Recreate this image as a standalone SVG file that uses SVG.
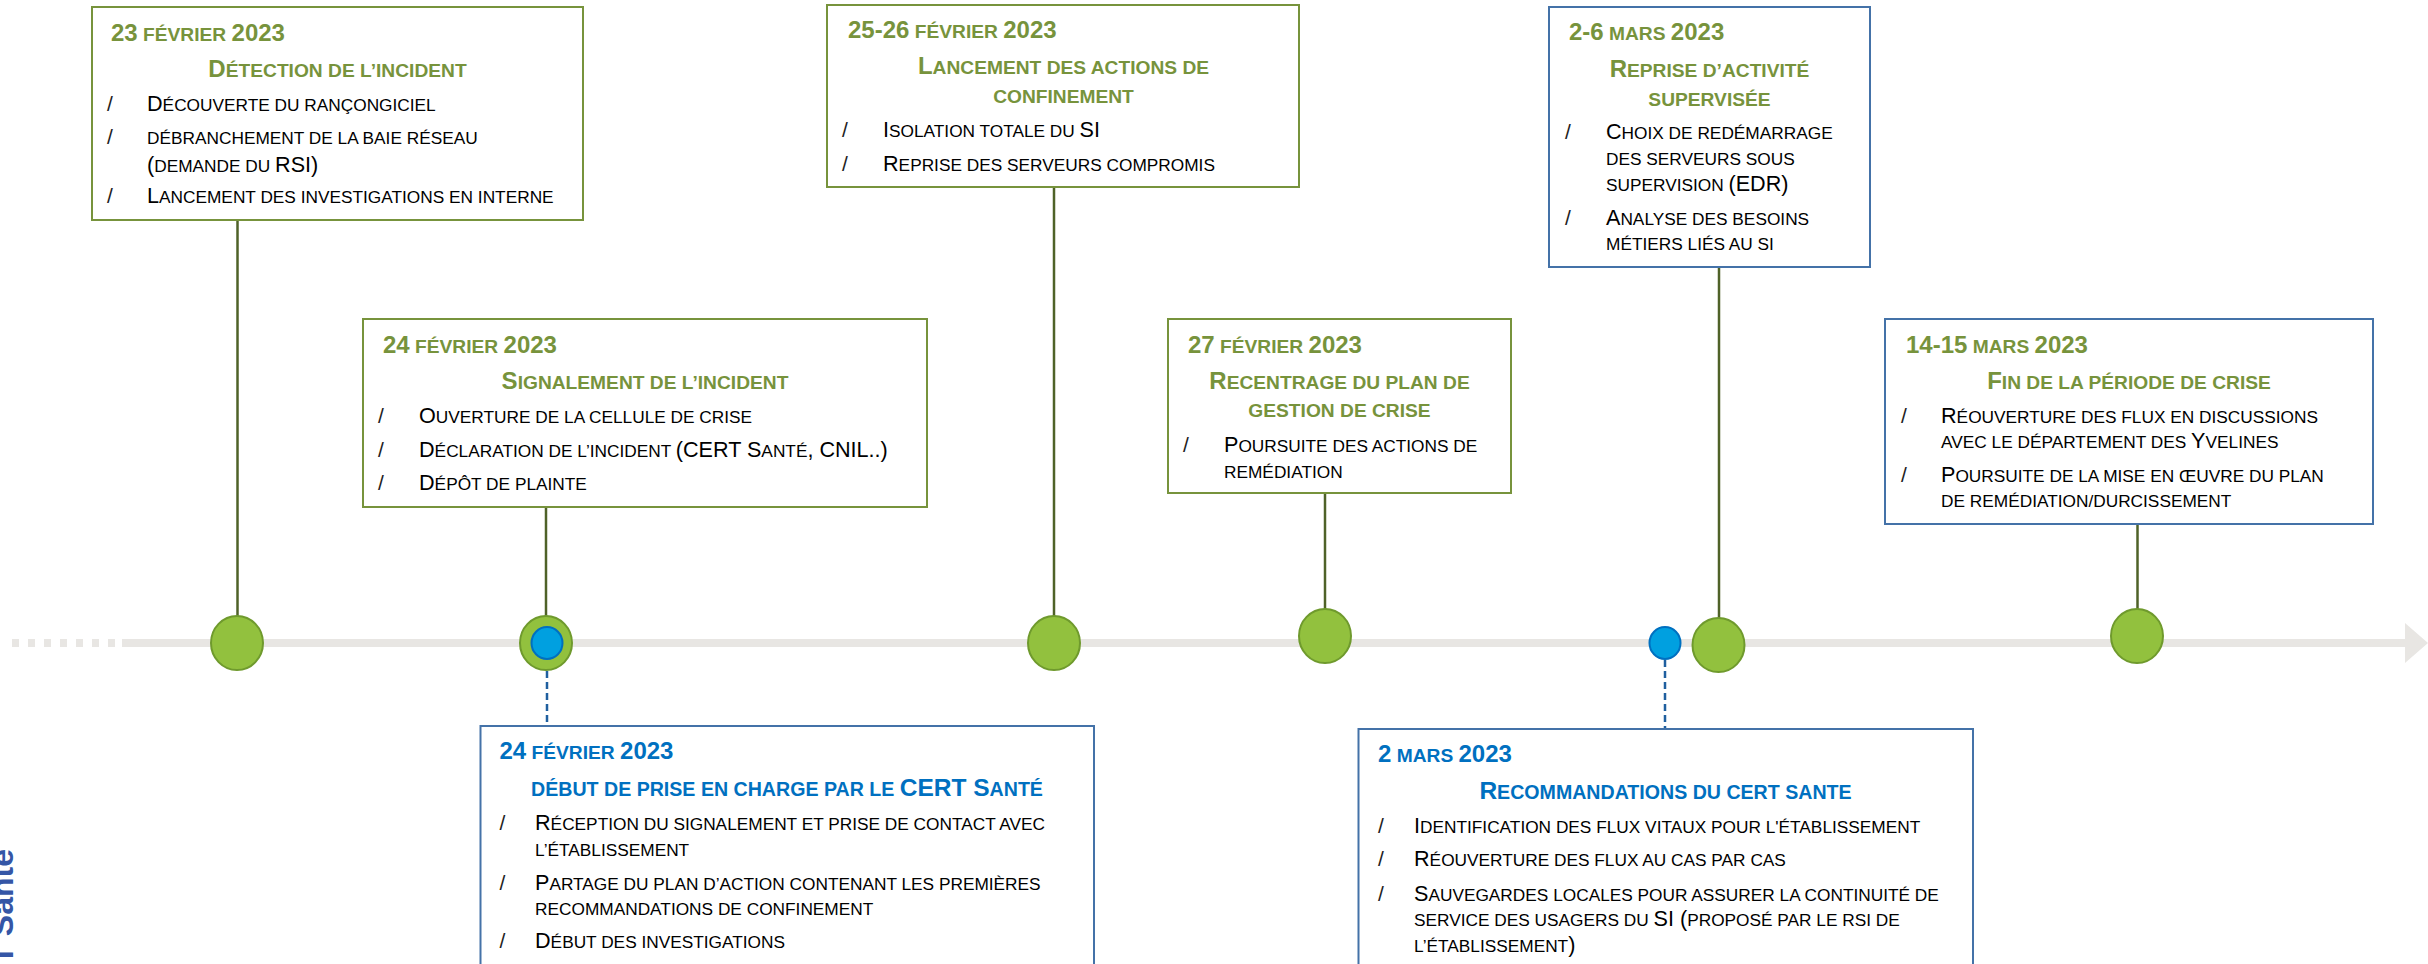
<svg xmlns="http://www.w3.org/2000/svg" width="2428" height="964" viewBox="0 0 2428 964">
  <style>
    text { font-family: "Liberation Sans", Arial, sans-serif; }
    .s { font-size: 80%; }
    .item { font-size: 21.6px; fill: #000; }
    .bul { font-size: 21px; fill: #222; }
    .date { font-size: 24px; font-weight: bold; fill: #77933C; }
    .head { font-size: 24px; font-weight: bold; fill: #77933C; text-anchor: middle; }
    .dateB { font-size: 24px; font-weight: bold; fill: #0070C0; }
    .headB { font-size: 24.5px; font-weight: bold; fill: #0070C0; text-anchor: middle; }
    .boxG { fill: #fff; stroke: #77933C; stroke-width: 2; }
    .boxB { fill: #fff; stroke: #4472A8; stroke-width: 2; }
    .stem { stroke: #4F6228; stroke-width: 2.5; fill: none; }
    .stemB { stroke: #1F5F9F; stroke-width: 2.5; fill: none; stroke-dasharray: 7 4; }
    .dot { fill: #92C13E; stroke: #6F9A2D; stroke-width: 2; }
    .dotB { fill: #00A0E0; stroke: #0070C0; stroke-width: 2; }
    .axis { stroke: #E8E6E3; stroke-width: 8; fill: none; }
  </style>

  <!-- time axis -->
  <g id="axis">
    <line class="axis" x1="12" y1="643" x2="118" y2="643" stroke-dasharray="7 9"/>
    <line class="axis" x1="122" y1="643" x2="2406" y2="643"/>
    <polygon points="2405,623 2428,643 2405,663" fill="#E8E6E3"/>
  </g>

  <!-- stems between event boxes and axis markers -->
  <g id="connectors">
    <line class="stem" x1="237.5" y1="220" x2="237.5" y2="617"/>
    <line class="stem" x1="546" y1="507" x2="546" y2="617"/>
    <line class="stem" x1="1054" y1="187" x2="1054" y2="617"/>
    <line class="stem" x1="1325" y1="493" x2="1325" y2="610"/>
    <line class="stem" x1="1719" y1="267" x2="1719" y2="618"/>
    <line class="stem" x1="2137.5" y1="524" x2="2137.5" y2="610"/>
    <line class="stemB" x1="547" y1="660" x2="547" y2="726"/>
    <line class="stemB" x1="1665" y1="660" x2="1665" y2="729"/>
  </g>

  <!-- axis markers -->
  <g id="markers">
    <ellipse class="dot" cx="237" cy="643" rx="26" ry="27"/>
    <ellipse class="dot" cx="546" cy="643" rx="26" ry="27"/>
    <ellipse class="dotB" cx="547" cy="643" rx="15.5" ry="16"/>
    <ellipse class="dot" cx="1054" cy="643" rx="26" ry="27"/>
    <ellipse class="dot" cx="1325" cy="636" rx="26" ry="27"/>
    <ellipse class="dotB" cx="1665" cy="643" rx="15.5" ry="16"/>
    <ellipse class="dot" cx="1718.5" cy="645" rx="26" ry="27"/>
    <ellipse class="dot" cx="2137" cy="636" rx="26" ry="27"/>
  </g>

  <!-- 23 février -->
  <g id="evt-0223">
    <rect class="boxG" x="92" y="7" width="491" height="213"/>
    <text class="date" x="111" y="41">23<tspan class="s"> FÉVRIER </tspan>2023</text>
    <text class="head" x="337.5" y="77">D<tspan class="s">ÉTECTION DE L’INCIDENT</tspan></text>
    <text class="bul" x="107" y="111">/</text>
    <text class="item" x="147" y="111">D<tspan class="s">ÉCOUVERTE DU RANÇONGICIEL</tspan></text>
    <text class="bul" x="107" y="144">/</text>
    <text class="item" x="147" y="144"><tspan class="s">DÉBRANCHEMENT DE LA BAIE RÉSEAU</tspan></text>
    <text class="item" x="147" y="171.5">(<tspan class="s">DEMANDE DU </tspan>RSI)</text>
    <text class="bul" x="107" y="203">/</text>
    <text class="item" x="147" y="203">L<tspan class="s">ANCEMENT DES INVESTIGATIONS EN INTERNE</tspan></text>
  </g>

  <!-- 24 février -->
  <g id="evt-0224">
    <rect class="boxG" x="363" y="319" width="564" height="188"/>
    <text class="date" x="383" y="353">24<tspan class="s"> FÉVRIER </tspan>2023</text>
    <text class="head" x="645" y="389">S<tspan class="s">IGNALEMENT DE L’INCIDENT</tspan></text>
    <text class="bul" x="378" y="423">/</text>
    <text class="item" x="419" y="423">O<tspan class="s">UVERTURE DE LA CELLULE DE CRISE</tspan></text>
    <text class="bul" x="378" y="457">/</text>
    <text class="item" x="419" y="457">D<tspan class="s">ÉCLARATION DE L’INCIDENT </tspan>(CERT S<tspan class="s">ANTÉ</tspan>, CNIL..)</text>
    <text class="bul" x="378" y="490">/</text>
    <text class="item" x="419" y="490">D<tspan class="s">ÉPÔT DE PLAINTE</tspan></text>
  </g>

  <!-- 25-26 février -->
  <g id="evt-0225">
    <rect class="boxG" x="827" y="5" width="472" height="182"/>
    <text class="date" x="848" y="38">25-26<tspan class="s"> FÉVRIER </tspan>2023</text>
    <text class="head" x="1063.5" y="74">L<tspan class="s">ANCEMENT DES ACTIONS DE</tspan></text>
    <text class="head" x="1063.5" y="102.5"><tspan class="s">CONFINEMENT</tspan></text>
    <text class="bul" x="842" y="137">/</text>
    <text class="item" x="883" y="137">I<tspan class="s">SOLATION TOTALE DU </tspan>SI</text>
    <text class="bul" x="842" y="171">/</text>
    <text class="item" x="883" y="171">R<tspan class="s">EPRISE DES SERVEURS COMPROMIS</tspan></text>
  </g>

  <!-- 27 février -->
  <g id="evt-0227">
    <rect class="boxG" x="1168" y="319" width="343" height="174"/>
    <text class="date" x="1188" y="353">27<tspan class="s"> FÉVRIER </tspan>2023</text>
    <text class="head" x="1339.5" y="389">R<tspan class="s">ECENTRAGE DU PLAN DE</tspan></text>
    <text class="head" x="1339.5" y="417"><tspan class="s">GESTION DE CRISE</tspan></text>
    <text class="bul" x="1183" y="452">/</text>
    <text class="item" x="1224" y="452">P<tspan class="s">OURSUITE DES ACTIONS DE</tspan></text>
    <text class="item" x="1224" y="478"><tspan class="s">REMÉDIATION</tspan></text>
  </g>

  <!-- 2-6 mars -->
  <g id="evt-0302-06">
    <rect class="boxB" x="1549" y="7" width="321" height="260"/>
    <text class="date" x="1569" y="40">2-6<tspan class="s"> MARS </tspan>2023</text>
    <text class="head" x="1709.5" y="77">R<tspan class="s">EPRISE D’ACTIVITÉ</tspan></text>
    <text class="head" x="1709.5" y="106"><tspan class="s">SUPERVISÉE</tspan></text>
    <text class="bul" x="1565" y="139">/</text>
    <text class="item" x="1606" y="139">C<tspan class="s">HOIX DE REDÉMARRAGE</tspan></text>
    <text class="item" x="1606" y="165"><tspan class="s">DES SERVEURS SOUS</tspan></text>
    <text class="item" x="1606" y="191"><tspan class="s">SUPERVISION </tspan>(EDR)</text>
    <text class="bul" x="1565" y="225">/</text>
    <text class="item" x="1606" y="225">A<tspan class="s">NALYSE DES BESOINS</tspan></text>
    <text class="item" x="1606" y="250"><tspan class="s">MÉTIERS LIÉS AU SI</tspan></text>
  </g>

  <!-- 14-15 mars -->
  <g id="evt-0314">
    <rect class="boxB" x="1885" y="319" width="488" height="205"/>
    <text class="date" x="1906" y="353">14-15<tspan class="s"> MARS </tspan>2023</text>
    <text class="head" x="2129" y="389">F<tspan class="s">IN DE LA PÉRIODE DE CRISE</tspan></text>
    <text class="bul" x="1901" y="423">/</text>
    <text class="item" x="1941" y="423">R<tspan class="s">ÉOUVERTURE DES FLUX EN DISCUSSIONS</tspan></text>
    <text class="item" x="1941" y="448"><tspan class="s">AVEC LE DÉPARTEMENT DES </tspan>Y<tspan class="s">VELINES</tspan></text>
    <text class="bul" x="1901" y="482">/</text>
    <text class="item" x="1941" y="482">P<tspan class="s">OURSUITE DE LA MISE EN ŒUVRE DU PLAN</tspan></text>
    <text class="item" x="1941" y="507"><tspan class="s">DE REMÉDIATION/DURCISSEMENT</tspan></text>
  </g>

  <!-- CERT Santé: 24 février -->
  <g id="cert-0224">
    <rect class="boxB" x="480.5" y="726" width="613.5" height="260"/>
    <text class="dateB" x="499.5" y="759">24<tspan class="s"> FÉVRIER </tspan>2023</text>
    <text class="headB" x="787" y="796"><tspan class="s">DÉBUT DE PRISE EN CHARGE PAR LE </tspan>CERT S<tspan class="s">ANTÉ</tspan></text>
    <text class="bul" x="499.5" y="830">/</text>
    <text class="item" x="535" y="830">R<tspan class="s">ÉCEPTION DU SIGNALEMENT ET PRISE DE CONTACT AVEC</tspan></text>
    <text class="item" x="535" y="856"><tspan class="s">L’ÉTABLISSEMENT</tspan></text>
    <text class="bul" x="499.5" y="890">/</text>
    <text class="item" x="535" y="890">P<tspan class="s">ARTAGE DU PLAN D’ACTION CONTENANT LES PREMIÈRES</tspan></text>
    <text class="item" x="535" y="915"><tspan class="s">RECOMMANDATIONS DE CONFINEMENT</tspan></text>
    <text class="bul" x="499.5" y="948">/</text>
    <text class="item" x="535" y="948">D<tspan class="s">ÉBUT DES INVESTIGATIONS</tspan></text>
  </g>

  <!-- CERT Santé: 2 mars -->
  <g id="cert-0302">
    <rect class="boxB" x="1358.5" y="729" width="614.5" height="260"/>
    <text class="dateB" x="1378" y="762">2<tspan class="s"> MARS </tspan>2023</text>
    <text class="headB" x="1665.5" y="799">R<tspan class="s">ECOMMANDATIONS DU CERT SANTE</tspan></text>
    <text class="bul" x="1378" y="833">/</text>
    <text class="item" x="1414" y="833">I<tspan class="s">DENTIFICATION DES FLUX VITAUX POUR L'ÉTABLISSEMENT</tspan></text>
    <text class="bul" x="1378" y="866">/</text>
    <text class="item" x="1414" y="866">R<tspan class="s">ÉOUVERTURE DES FLUX AU CAS PAR CAS</tspan></text>
    <text class="bul" x="1378" y="901">/</text>
    <text class="item" x="1414" y="901">S<tspan class="s">AUVEGARDES LOCALES POUR ASSURER LA CONTINUITÉ DE</tspan></text>
    <text class="item" x="1414" y="926"><tspan class="s">SERVICE DES USAGERS DU </tspan>SI (<tspan class="s">PROPOSÉ PAR LE RSI DE</tspan></text>
    <text class="item" x="1414" y="952"><tspan class="s">L’ÉTABLISSEMENT</tspan>)</text>
  </g>

  <!-- side label -->
  <g id="side-label">
    <text transform="translate(13,849) rotate(-90)" text-anchor="end" font-size="32" font-weight="bold" fill="#3556A6">CERT Santé</text>
  </g>
</svg>
